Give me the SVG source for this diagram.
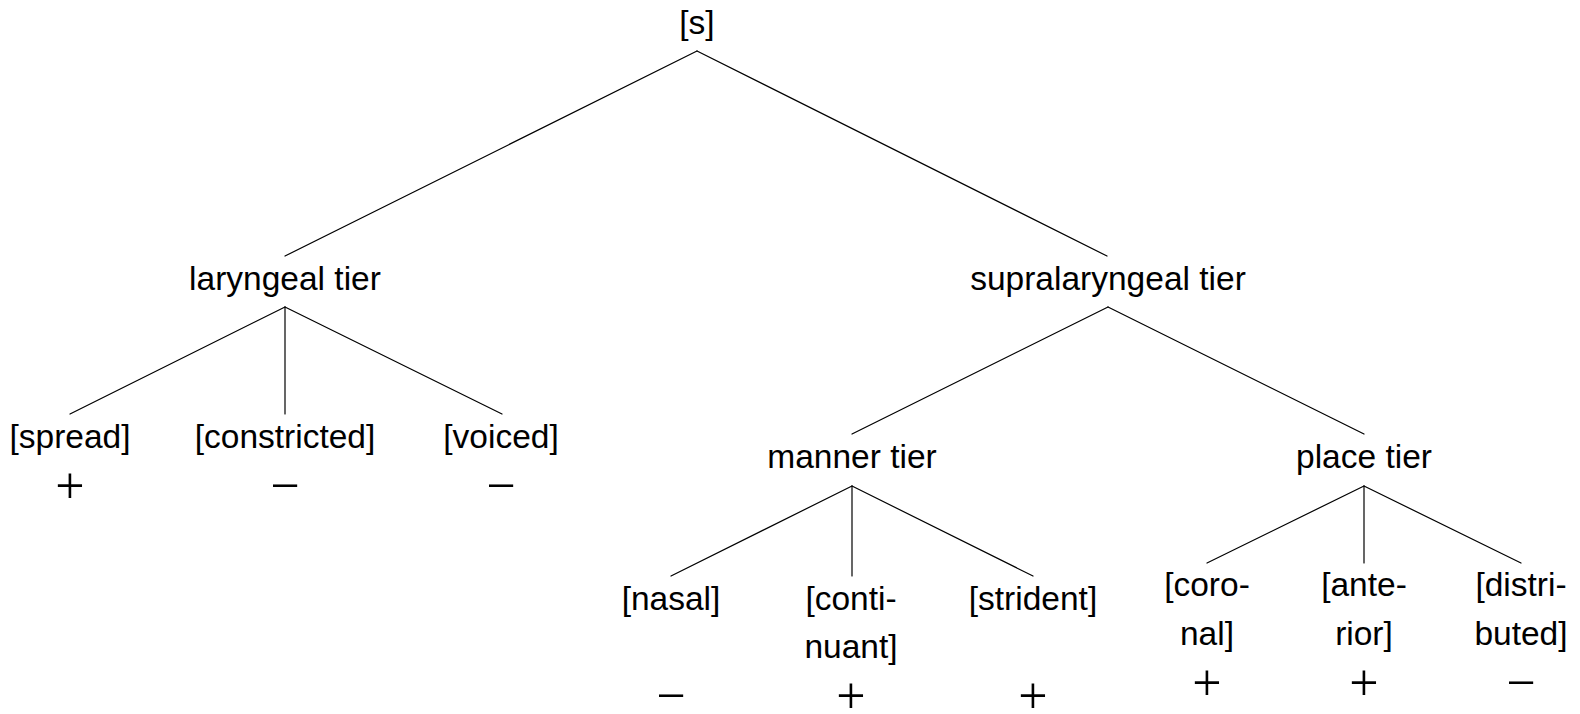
<svg xmlns="http://www.w3.org/2000/svg" width="1580" height="714" viewBox="0 0 1580 714">
<style>
.t{font-family:"Liberation Sans",Arial,sans-serif;font-size:33.5px;fill:#000;text-anchor:middle}
.s{font-family:"Liberation Serif","Times New Roman",serif;font-size:52px;fill:#000;text-anchor:middle}
.e{stroke:#000;stroke-width:1.2;fill:none;stroke-linecap:round}
</style>
<rect width="1580" height="714" fill="#fff"/>
<g id="connectors" class="e">
<line x1="697" y1="51" x2="285" y2="256"/>
<line x1="697" y1="51" x2="1107" y2="256"/>
<line x1="285" y1="307" x2="70" y2="414"/>
<line x1="285" y1="307" x2="285" y2="414"/>
<line x1="285" y1="307" x2="502" y2="414"/>
<line x1="1108" y1="307" x2="852" y2="434"/>
<line x1="1108" y1="307" x2="1364" y2="434"/>
<line x1="852" y1="486" x2="671" y2="576"/>
<line x1="852" y1="486" x2="852" y2="576"/>
<line x1="852" y1="486" x2="1033" y2="576"/>
<line x1="1364" y1="486" x2="1207" y2="563"/>
<line x1="1364" y1="486" x2="1364" y2="563"/>
<line x1="1364" y1="486" x2="1521" y2="563"/>
</g>
<g id="root"><text class="t" x="697" y="34">[s]</text></g>
<g id="laryngeal"><text class="t" x="285" y="290">laryngeal tier</text></g>
<g id="supralaryngeal"><text class="t" x="1108" y="290">supralaryngeal tier</text></g>
<g id="spread"><text class="t" x="70" y="448">[spread]</text><text class="s" x="70" y="503">+</text></g>
<g id="constricted"><text class="t" x="285" y="448">[constricted]</text><text class="s" x="285" y="503">−</text></g>
<g id="voiced"><text class="t" x="501" y="448">[voiced]</text><text class="s" x="501" y="503">−</text></g>
<g id="manner"><text class="t" x="852" y="468">manner tier</text></g>
<g id="place"><text class="t" x="1364" y="468">place tier</text></g>
<g id="nasal"><text class="t" x="671" y="610">[nasal]</text><text class="s" x="671" y="713">−</text></g>
<g id="continuant"><text class="t" x="851" y="610">[conti-</text><text class="t" x="851" y="658">nuant]</text><text class="s" x="851" y="713">+</text></g>
<g id="strident"><text class="t" x="1033" y="610">[strident]</text><text class="s" x="1033" y="713">+</text></g>
<g id="coronal"><text class="t" x="1207" y="596">[coro-</text><text class="t" x="1207" y="645">nal]</text><text class="s" x="1207" y="700">+</text></g>
<g id="anterior"><text class="t" x="1364" y="596">[ante-</text><text class="t" x="1364" y="645">rior]</text><text class="s" x="1364" y="700">+</text></g>
<g id="distributed"><text class="t" x="1521" y="596">[distri-</text><text class="t" x="1521" y="645">buted]</text><text class="s" x="1521" y="700">−</text></g>
</svg>
